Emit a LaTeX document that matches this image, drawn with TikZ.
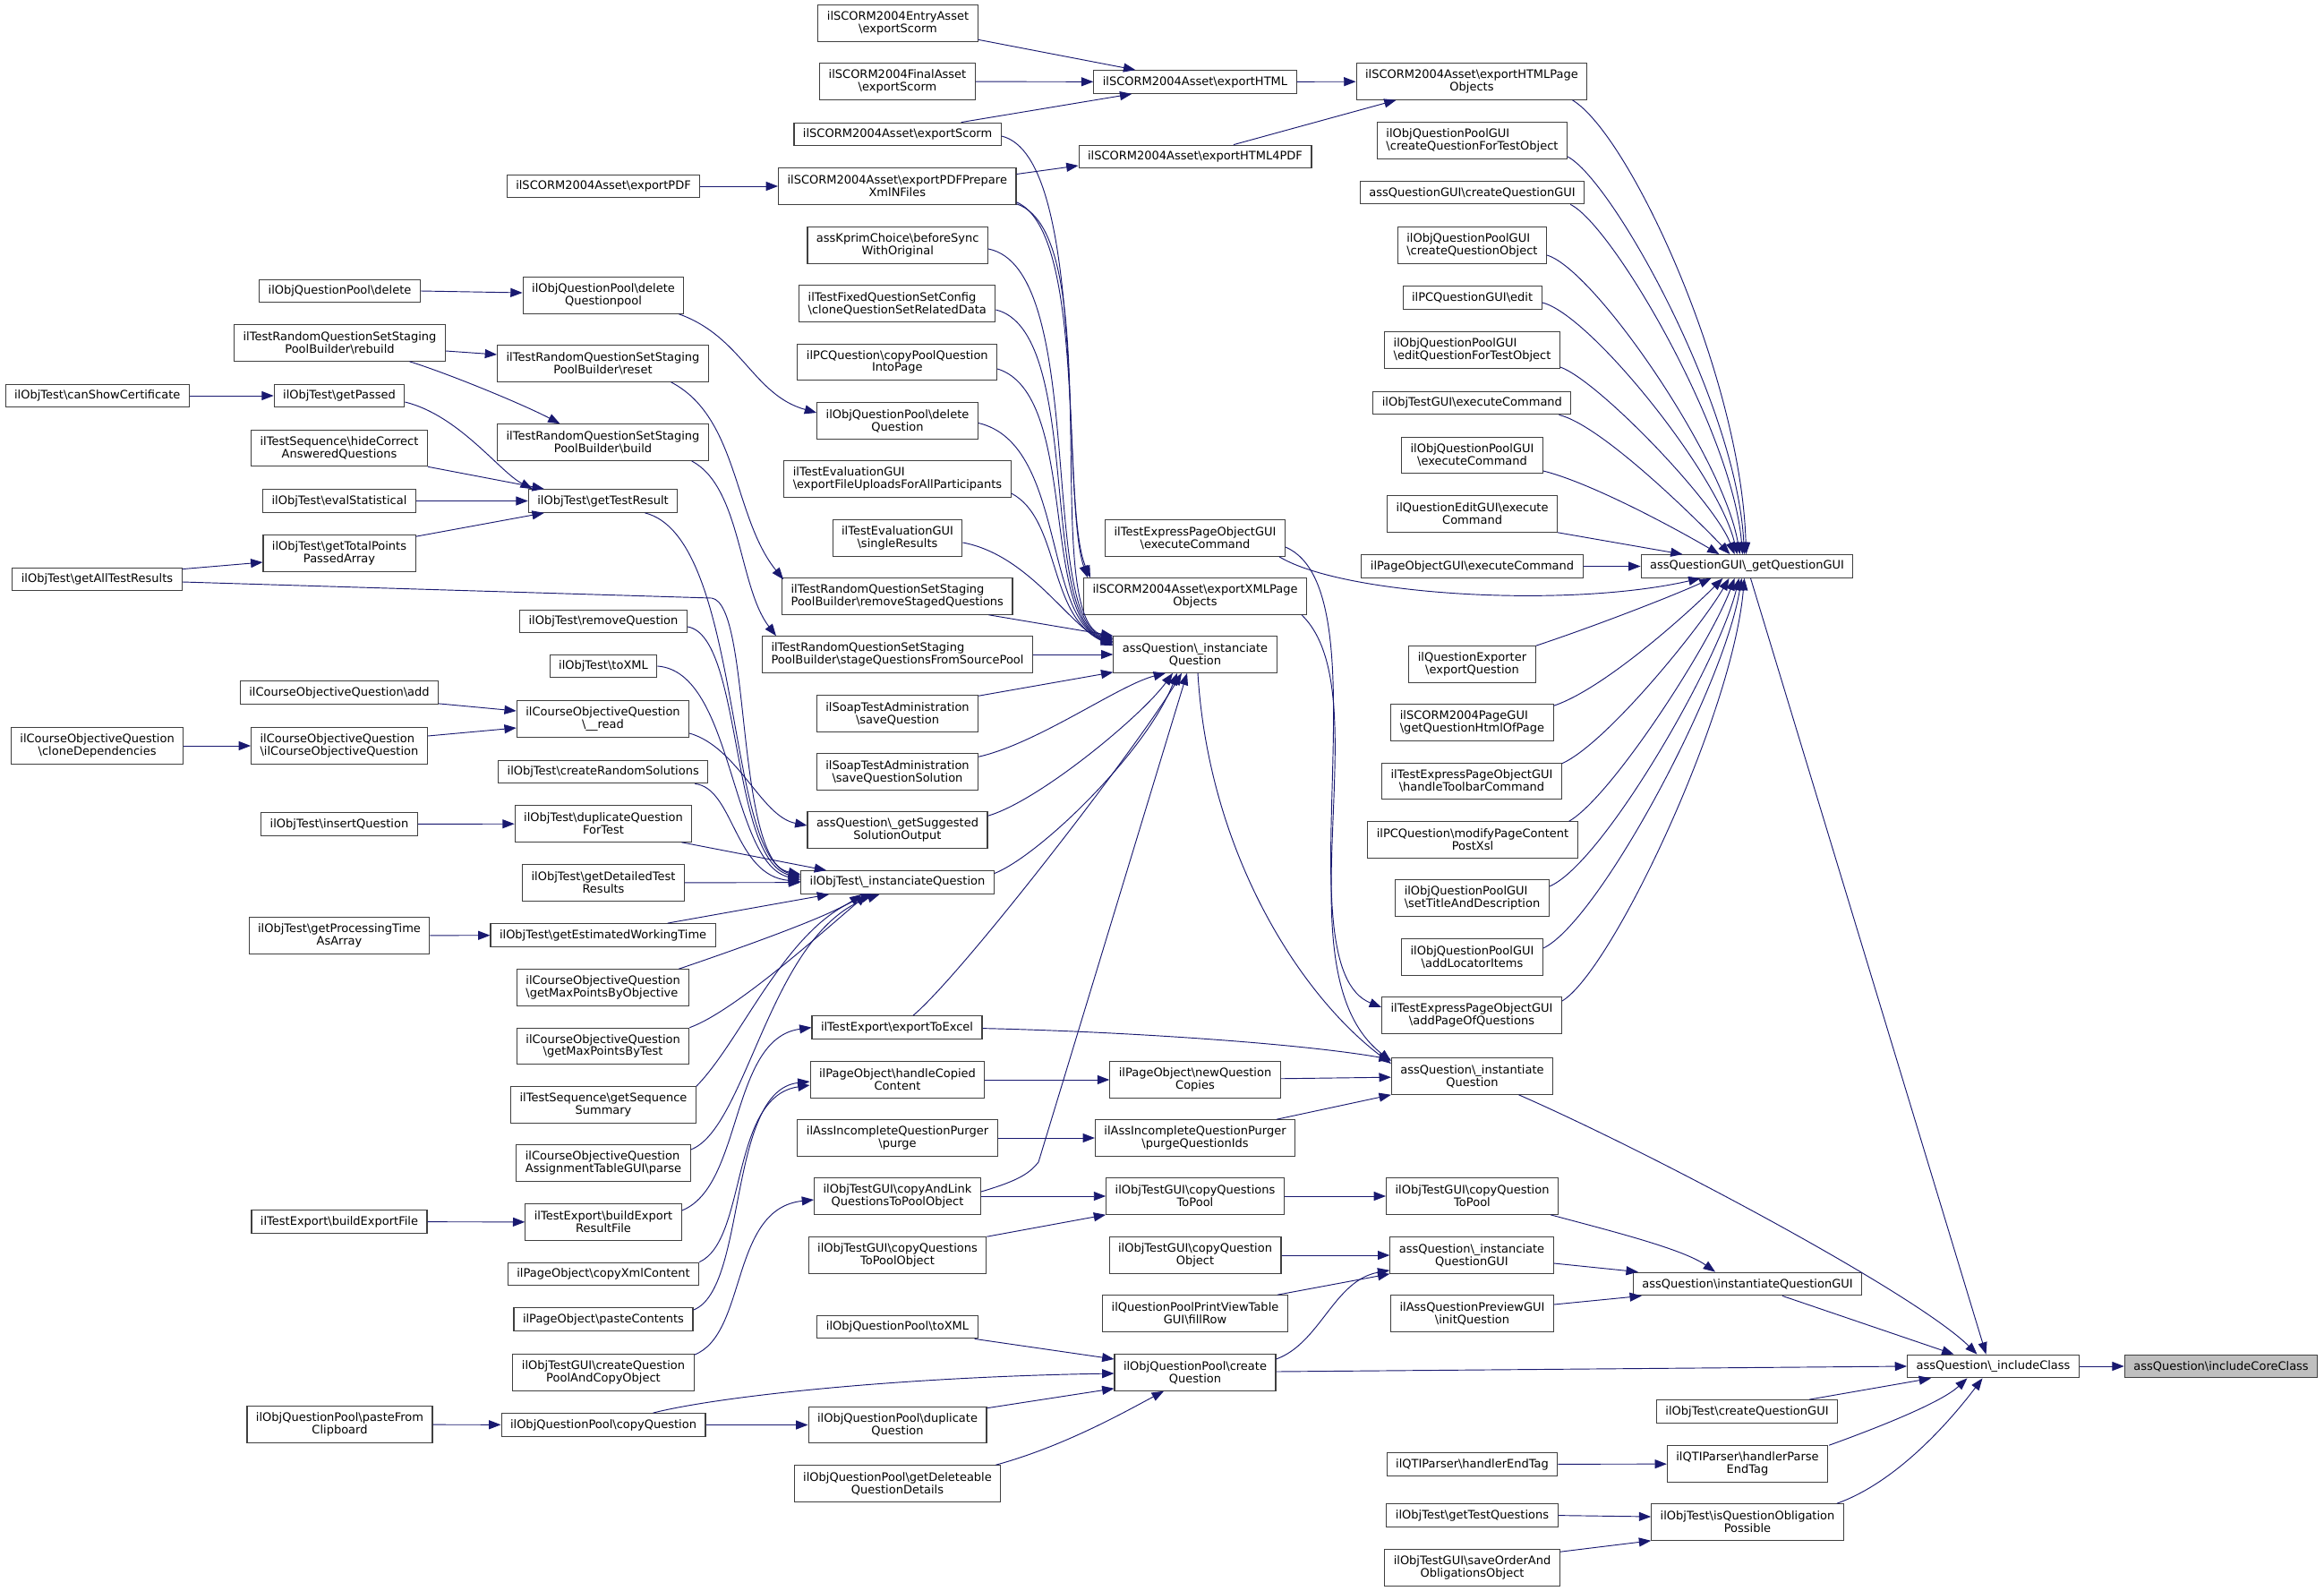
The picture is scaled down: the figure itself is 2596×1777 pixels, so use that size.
\documentclass[tikz,border=0pt]{standalone}
\usepackage{fontspec}
\setmainfont{DejaVu Sans}
\usetikzlibrary{arrows.meta,calc}
\definecolor{edgeblue}{HTML}{191970}
\definecolor{nodeline}{HTML}{404040}
\definecolor{rootfill}{HTML}{BFBFBF}
\newcommand{\bsl}{\textbackslash}

\begin{document}
\begin{tikzpicture}[x=0.75pt,y=-0.75pt,
  box/.style={draw=nodeline, line width=0.8pt, fill=white, inner xsep=7.5pt, inner ysep=2pt,
    minimum height=19.3pt, align=center, font=\fontsize{9.75}{10.35}\selectfont},
  dbl/.style={box, minimum height=30.4pt},
  dbll/.style={dbl, align=left},
  edge/.style={draw=edgeblue, line width=0.7pt, -{Triangle[length=10pt,width=7.5pt]}}]

\useasboundingbox (0,0) rectangle (2596,1777);
\fill[white] (0,0) rectangle (2596,1777);

\node[box] (cansc) at (108.7,442) {ilObjTest\bsl canShowCertificate};
\node[box] (gatr) at (108.5,647) {ilObjTest\bsl getAllTestResults};
\node[dbl] (clonedep) at (108.6,833) {ilCourseObjectiveQuestion\\\bsl cloneDependencies};

\node[box] (oqpdel) at (379.5,325) {ilObjQuestionPool\bsl delete};
\node[dbl] (rebuild) at (379.5,383) {ilTestRandomQuestionSetStaging\\PoolBuilder\bsl rebuild};
\node[box] (getpassed) at (379,442) {ilObjTest\bsl getPassed};
\node[dbl] (hidecorrect) at (379,500.5) {ilTestSequence\bsl hideCorrect\\AnsweredQuestions};
\node[box] (evalstat) at (379,559.5) {ilObjTest\bsl evalStatistical};
\node[dbl] (totalpts) at (379,618) {ilObjTest\bsl getTotalPoints\\PassedArray};
\node[box] (coqadd) at (379,773.5) {ilCourseObjectiveQuestion\bsl add};
\node[dbll] (coqctor) at (379,833) {ilCourseObjectiveQuestion\\\bsl ilCourseObjectiveQuestion};
\node[box] (insertq) at (379,920.6) {ilObjTest\bsl insertQuestion};
\node[dbl] (proctime) at (379,1045) {ilObjTest\bsl getProcessingTime\\AsArray};
\node[box] (buildexpfile) at (379,1364.5) {ilTestExport\bsl buildExportFile};
\node[dbl] (pastefrom) at (379.5,1591) {ilObjQuestionPool\bsl pasteFrom\\Clipboard};

\node[box] (exportpdf) at (674,208) {ilSCORM2004Asset\bsl exportPDF};
\node[dbl] (delpool) at (674,330) {ilObjQuestionPool\bsl delete\\Questionpool};
\node[dbl] (reset) at (673.5,406) {ilTestRandomQuestionSetStaging\\PoolBuilder\bsl reset};
\node[dbl] (build) at (673.5,494) {ilTestRandomQuestionSetStaging\\PoolBuilder\bsl build};
\node[box] (testresult) at (673.5,559.5) {ilObjTest\bsl getTestResult};
\node[box] (removeq) at (674,694) {ilObjTest\bsl removeQuestion};
\node[box] (testxml) at (674,744) {ilObjTest\bsl toXML};
\node[dbl] (coqread) at (673.5,803) {ilCourseObjectiveQuestion\\\bsl\_\_read};
\node[box] (randsol) at (673.7,862) {ilObjTest\bsl createRandomSolutions};
\node[dbl] (dupfortest) at (674,920) {ilObjTest\bsl duplicateQuestion\\ForTest};
\node[dbl] (detailed) at (674,986) {ilObjTest\bsl getDetailedTest\\Results};
\node[box] (worktime) at (673.6,1044.5) {ilObjTest\bsl getEstimatedWorkingTime};
\node[dbll] (maxobj) at (673.6,1103) {ilCourseObjectiveQuestion\\\bsl getMaxPointsByObjective};
\node[dbl] (maxtest) at (673.6,1168.5) {ilCourseObjectiveQuestion\\\bsl getMaxPointsByTest};
\node[dbl] (seqsum) at (674,1234) {ilTestSequence\bsl getSequence\\Summary};
\node[dbll] (tableparse) at (674,1299) {ilCourseObjectiveQuestion\\AssignmentTableGUI\bsl parse};
\node[dbl] (resultfile) at (674,1365) {ilTestExport\bsl buildExport\\ResultFile};
\node[box] (copyxml) at (674,1423) {ilPageObject\bsl copyXmlContent};
\node[box] (pastecont) at (674,1473.5) {ilPageObject\bsl pasteContents};
\node[dbl] (poolandcopy) at (674,1533) {ilObjTestGUI\bsl createQuestion\\PoolAndCopyObject};
\node[box] (copyq) at (674,1591.5) {ilObjQuestionPool\bsl copyQuestion};

\node[dbl] (entryscorm) at (1003,26) {ilSCORM2004EntryAsset\\\bsl exportScorm};
\node[dbl] (finalscorm) at (1002.5,91) {ilSCORM2004FinalAsset\\\bsl exportScorm};
\node[box] (assetscorm) at (1002.6,150) {ilSCORM2004Asset\bsl exportScorm};
\node[dbl] (pdfprep) at (1002.3,208) {ilSCORM2004Asset\bsl exportPDFPrepare\\XmlNFiles};
\node[dbl] (kprim) at (1002.7,274) {assKprimChoice\bsl beforeSync\\WithOriginal};
\node[dbll] (fixedclone) at (1002.3,339) {ilTestFixedQuestionSetConfig\\\bsl cloneQuestionSetRelatedData};
\node[dbl] (pcintopage) at (1002.3,404.5) {ilPCQuestion\bsl copyPoolQuestion\\IntoPage};
\node[dbl] (delq) at (1002.5,470) {ilObjQuestionPool\bsl delete\\Question};
\node[dbll] (fileuploads) at (1002.5,535) {ilTestEvaluationGUI\\\bsl exportFileUploadsForAllParticipants};
\node[dbl] (singleres) at (1002.5,601) {ilTestEvaluationGUI\\\bsl singleResults};
\node[dbll] (removestaged) at (1002.3,666) {ilTestRandomQuestionSetStaging\\PoolBuilder\bsl removeStagedQuestions};
\node[dbll] (stageq) at (1002.5,731) {ilTestRandomQuestionSetStaging\\PoolBuilder\bsl stageQuestionsFromSourcePool};
\node[dbl] (soapsave) at (1002.5,797) {ilSoapTestAdministration\\\bsl saveQuestion};
\node[dbl] (soapsol) at (1002.5,862) {ilSoapTestAdministration\\\bsl saveQuestionSolution};
\node[dbl] (suggested) at (1002.5,927) {assQuestion\bsl\_getSuggested\\SolutionOutput};
\node[box] (otinst) at (1002.5,985.5) {ilObjTest\bsl\_instanciateQuestion};
\node[box] (toexcel) at (1002,1147.6) {ilTestExport\bsl exportToExcel};
\node[dbl] (handlecopied) at (1002.5,1206) {ilPageObject\bsl handleCopied\\Content};
\node[dbl] (purge) at (1002.5,1271) {ilAssIncompleteQuestionPurger\\\bsl purge};
\node[dbl] (copylink) at (1002.5,1336) {ilObjTestGUI\bsl copyAndLink\\QuestionsToPoolObject};
\node[dbl] (copytopoolobj) at (1002.5,1402) {ilObjTestGUI\bsl copyQuestions\\ToPoolObject};
\node[box] (poolxml) at (1002.5,1482) {ilObjQuestionPool\bsl toXML};
\node[dbl] (dupq) at (1002.5,1591.5) {ilObjQuestionPool\bsl duplicate\\Question};
\node[dbl] (deleteable) at (1002.5,1657) {ilObjQuestionPool\bsl getDeleteable\\QuestionDetails};

\node[box] (exporthtml) at (1335,91.5) {ilSCORM2004Asset\bsl exportHTML};
\node[box] (html4pdf) at (1335,175) {ilSCORM2004Asset\bsl exportHTML4PDF};
\node[dbl] (tepoexec) at (1335,601) {ilTestExpressPageObjectGUI\\\bsl executeCommand};
\node[dbl] (xmlpageobj) at (1335,666) {ilSCORM2004Asset\bsl exportXMLPage\\Objects};
\node[dbl] (aqinst) at (1335,731) {assQuestion\bsl\_instanciate\\Question};
\node[dbl] (newcopies) at (1335,1206) {ilPageObject\bsl newQuestion\\Copies};
\node[dbl] (purgeids) at (1335,1271) {ilAssIncompleteQuestionPurger\\\bsl purgeQuestionIds};
\node[dbl] (copystopool) at (1335,1336) {ilObjTestGUI\bsl copyQuestions\\ToPool};
\node[dbl] (copyqobj) at (1335,1402) {ilObjTestGUI\bsl copyQuestion\\Object};
\node[dbl] (fillrow) at (1335,1467) {ilQuestionPoolPrintViewTable\\GUI\bsl fillRow};
\node[dbl] (poolcreate) at (1335,1533) {ilObjQuestionPool\bsl create\\Question};

\node[dbl] (htmlpageobj) at (1644,91) {ilSCORM2004Asset\bsl exportHTMLPage\\Objects};
\node[dbll] (createfortest) at (1644.5,157) {ilObjQuestionPoolGUI\\\bsl createQuestionForTestObject};
\node[box] (createqgui) at (1644.5,215) {assQuestionGUI\bsl createQuestionGUI};
\node[dbll] (createqobj) at (1644.4,274) {ilObjQuestionPoolGUI\\\bsl createQuestionObject};
\node[box] (pcedit) at (1644.6,332.5) {ilPCQuestionGUI\bsl edit};
\node[dbll] (editfortest) at (1644.5,391) {ilObjQuestionPoolGUI\\\bsl editQuestionForTestObject};
\node[box] (testguiexec) at (1644.4,450) {ilObjTestGUI\bsl executeCommand};
\node[dbl] (poolguiexec) at (1644.5,508.5) {ilObjQuestionPoolGUI\\\bsl executeCommand};
\node[dbl] (editguiexec) at (1644.6,574) {ilQuestionEditGUI\bsl execute\\Command};
\node[box] (pageguiexec) at (1644.5,632.5) {ilPageObjectGUI\bsl executeCommand};
\node[dbl] (exportq) at (1644.5,742) {ilQuestionExporter\\\bsl exportQuestion};
\node[dbll] (htmlofpage) at (1644.5,807) {ilSCORM2004PageGUI\\\bsl getQuestionHtmlOfPage};
\node[dbl] (toolbarcmd) at (1644,872.5) {ilTestExpressPageObjectGUI\\\bsl handleToolbarCommand};
\node[dbl] (postxsl) at (1645,938) {ilPCQuestion\bsl modifyPageContent\\PostXsl};
\node[dbll] (titledesc) at (1644.5,1003) {ilObjQuestionPoolGUI\\\bsl setTitleAndDescription};
\node[dbl] (locator) at (1644.5,1069) {ilObjQuestionPoolGUI\\\bsl addLocatorItems};
\node[dbl] (addpage) at (1644,1134) {ilTestExpressPageObjectGUI\\\bsl addPageOfQuestions};
\node[dbl] (aqinstantiate) at (1644.5,1202) {assQuestion\bsl\_instantiate\\Question};
\node[dbl] (copyqtopool) at (1644.5,1336) {ilObjTestGUI\bsl copyQuestion\\ToPool};
\node[dbl] (aqinstgui) at (1644,1402) {assQuestion\bsl\_instanciate\\QuestionGUI};
\node[dbl] (previewinit) at (1644.5,1467) {ilAssQuestionPreviewGUI\\\bsl initQuestion};
\node[box] (endtag) at (1644.5,1635.5) {ilQTIParser\bsl handlerEndTag};
\node[box] (testquestions) at (1644.5,1692.6) {ilObjTest\bsl getTestQuestions};
\node[dbl] (saveorder) at (1644.5,1751) {ilObjTestGUI\bsl saveOrderAnd\\ObligationsObject};

\node[box] (getqgui) at (1951.5,632.5) {assQuestionGUI\bsl\_getQuestionGUI};
\node[box] (instgui) at (1952,1434) {assQuestion\bsl instantiateQuestionGUI};
\node[box] (testcreategui) at (1951.5,1576.5) {ilObjTest\bsl createQuestionGUI};
\node[dbl] (parseend) at (1952,1635) {ilQTIParser\bsl handlerParse\\EndTag};
\node[dbl] (obligation) at (1952,1700) {ilObjTest\bsl isQuestionObligation\\Possible};

\node[box] (includeclass) at (2226.5,1526) {assQuestion\bsl\_includeClass};
\node[box, fill=rootfill] (corecls) at (2481,1526) {assQuestion\bsl includeCoreClass};

\draw[edge] (cansc) -- (getpassed);
\draw[edge] ($(getpassed.east)+(0,7)$) .. controls (513,464) and (558,527) .. ($(testresult.north west)+(5,0)$);
\draw[edge] (hidecorrect.south east) -- ($(testresult.north west)+(18,0)$);
\draw[edge] (evalstat) -- (testresult);
\draw[edge] ($(totalpts.north east)+(0,2)$) -- ($(testresult.south west)+(18,0)$);
\draw[edge] ($(gatr.north east)+(0,2)$) -- ($(totalpts.west)+(0,10)$);
\draw[edge] ($(gatr.east)+(0,3)$) -- (795,668) .. controls (840,675) and (820,960) .. ($(otinst.west)+(0,-7)$);
\draw[edge] (oqpdel.east) -- ($(delpool.west)+(0,-3)$);
\draw[edge] ($(delpool.south east)+(-6,0)$) .. controls (829,376) and (841,441) .. ($(delq.west)+(0,-9)$);
\draw[edge] ($(rebuild.east)+(0,9)$) -- ($(reset.west)+(0,-10)$);
\draw[edge] ($(rebuild.south)+(78,0)$) .. controls (503,418) and (585,452) .. ($(build.north)+(-48,0)$);
\draw[edge] ($(reset.south)+(76,0)$) .. controls (825,466) and (819,578) .. ($(removestaged.north west)+(2,2)$);
\draw[edge] ($(build.south)+(99,0)$) .. controls (828,544) and (825,656) .. ($(stageq.north west)+(16,0)$);
\draw[edge] ($(testresult.south)+(47,0)$) .. controls (830,600) and (810,960) .. ($(otinst.west)+(0,-9)$);
\draw[edge] ($(removeq.east)+(0,6)$) .. controls (830,710) and (815,960) .. ($(otinst.west)+(0,-5)$);
\draw[edge] (testxml.east) .. controls (820,750) and (815,965) .. ($(otinst.west)+(0,-3)$);
\draw[edge] ($(randsol.south east)+(-15,0)$) .. controls (820,880) and (820,978) .. ($(otinst.west)+(0,-1)$);
\draw[edge] ($(dupfortest.south east)+(-12,0)$) -- ($(otinst.north west)+(29,0)$);
\draw[edge] (detailed) -- (otinst);
\draw[edge] ($(worktime.north)+(72,0)$) -- ($(otinst.south west)+(32,0)$);
\draw[edge] ($(maxobj.north east)+(-12,0)$) .. controls (800,1068) and (925,1025) .. ($(otinst.south)+(-40,0)$);
\draw[edge] (maxtest.north east) .. controls (820,1130) and (920,1040) .. ($(otinst.south)+(-34,0)$);
\draw[edge] (seqsum.north east) .. controls (830,1160) and (880,1030) .. ($(otinst.south)+(-27,0)$);
\draw[edge] ($(tableparse.east)+(0,-15)$) .. controls (835,1260) and (860,1040) .. ($(otinst.south)+(-20,0)$);
\draw[edge] ($(otinst.east)+(0,-10)$) .. controls (1162,955) and (1280,840) .. ($(aqinst.south)+(-20,0)$);
\draw[edge] ($(coqadd.south east)+(0,-1)$) -- ($(coqread.west)+(0,-9)$);
\draw[edge] ($(coqctor.east)+(0,-11)$) -- ($(coqread.west)+(0,10)$);
\draw[edge] (clonedep) -- (coqctor);
\draw[edge] ($(coqread.east)+(0,16)$) .. controls (825,835) and (850,912) .. ($(suggested.west)+(0,-5)$);
\draw[edge] (insertq) -- (dupfortest);
\draw[edge] (proctime) -- (worktime);
\draw[edge] (buildexpfile) -- (resultfile);
\draw[edge] ($(resultfile.east)+(0,-13)$) .. controls (830,1325) and (815,1160) .. (toexcel.west);
\draw[edge] (copyxml.north east) .. controls (835,1385) and (815,1225) .. ($(handlecopied.west)+(0,6)$);
\draw[edge] ($(pastecont.north east)+(0,3)$) .. controls (835,1440) and (812,1218) .. ($(handlecopied.west)+(0,2)$);
\draw[edge] ($(poolandcopy.north east)+(0,1)$) .. controls (835,1490) and (815,1350) .. ($(copylink.west)+(0,4)$);
\draw[edge] (handlecopied) -- (newcopies);
\draw[edge] (purge) -- (purgeids);
\draw[edge] (copylink) -- (copystopool);
\draw[edge] ($(copylink.east)+(0,-5)$) .. controls (1140,1318) and (1150,1310) .. (1160,1298) -- ($(aqinst.south)+(-9,0)$);
\draw[edge] (copytopoolobj.north east) -- (copystopool.south west);
\draw[edge] (copystopool) -- (copyqtopool);
\draw[edge] (copyqobj) -- (aqinstgui);
\draw[edge] ($(fillrow.north east)+(-12,0)$) -- (aqinstgui.south west);
\draw[edge] ($(poolcreate.east)+(0,-15)$) .. controls (1475,1500) and (1490,1430) .. ($(aqinstgui.south west)+(0,-4)$);
\draw[edge] ($(poolcreate.east)+(0,-1)$) -- (includeclass.west);
\draw[edge] ($(poolxml.south east)+(-4,0)$) -- ($(poolcreate.west)+(0,-15)$);
\draw[edge] ($(copyq.north east)+(-59,0)$) .. controls (800,1560) and (1000,1538) .. ($(poolcreate.west)+(0,1)$);
\draw[edge] (copyq) -- (dupq);
\draw[edge] ($(dupq.north east)+(0,2)$) -- ($(poolcreate.south west)+(0,-3)$);
\draw[edge] ($(deleteable.north east)+(-6,0)$) .. controls (1190,1615) and (1260,1575) .. ($(poolcreate.south)+(-35,0)$);
\draw[edge] (pastefrom) -- (copyq);

\draw[edge] (exportpdf) -- (pdfprep);
\draw[edge] ($(pdfprep.east)+(0,-13.5)$) -- ($(html4pdf.west)+(0,10)$);
\draw[edge] ($(entryscorm.south east)+(0,-2.5)$) -- ($(exporthtml.north west)+(47,0)$);
\draw[edge] (finalscorm) -- (exporthtml);
\draw[edge] ($(assetscorm.north)+(71,0)$) -- ($(exporthtml.south west)+(43,0)$);
\draw[edge] (exporthtml) -- (htmlpageobj);
\draw[edge] ($(html4pdf.north)+(43,0)$) -- ($(htmlpageobj.south west)+(45,0)$);
\draw[edge] ($(assetscorm.east)+(0,2)$) .. controls (1215,175) and (1185,560) .. ($(xmlpageobj.north west)+(5,0)$);
\draw[edge] ($(pdfprep.south east)+(0,-3)$) .. controls (1215,260) and (1185,570) .. ($(xmlpageobj.north west)+(8,0)$);
\draw[edge] ($(pdfprep.south east)+(0,-1)$) .. controls (1240,262) and (1160,690) .. ($(aqinst.north west)+(0,2)$);
\draw[edge] ($(kprim.east)+(0,4)$) .. controls (1215,300) and (1160,690) .. ($(aqinst.north west)+(0,3.5)$);
\draw[edge] ($(fixedclone.east)+(0,7)$) .. controls (1210,370) and (1160,690) .. ($(aqinst.north west)+(0,5)$);
\draw[edge] ($(pcintopage.east)+(0,7.5)$) .. controls (1205,440) and (1162,690) .. ($(aqinst.north west)+(0,6.5)$);
\draw[edge] ($(delq.east)+(0,2.5)$) .. controls (1190,495) and (1165,690) .. ($(aqinst.north west)+(0,8)$);
\draw[edge] ($(fileuploads.east)+(0,16)$) .. controls (1185,580) and (1170,690) .. ($(aqinst.north west)+(0,9.5)$);
\draw[edge] ($(singleres.east)+(0,5)$) .. controls (1150,620) and (1195,700) .. ($(aqinst.north west)+(0,11)$);
\draw[edge] ($(removestaged.south east)+(-27,0)$) -- (aqinst.north west);
\draw[edge] (stageq) -- (aqinst);
\draw[edge] ($(soapsave.north east)+(0,1)$) -- ($(aqinst.south west)+(0,-1)$);
\draw[edge] ($(soapsol.north east)+(0,4)$) .. controls (1160,830) and (1250,765) .. ($(aqinst.south)+(-33,0)$);
\draw[edge] ($(suggested.north east)+(0,5)$) .. controls (1160,895) and (1275,800) .. ($(aqinst.south)+(-25,0)$);
\draw[edge] ($(toexcel.north)+(18,0)$) .. controls (1075,1088) and (1270,835) .. ($(aqinst.south)+(-15,0)$);
\draw[edge] ($(aqinst.south)+(3,0)$) .. controls (1350,950) and (1450,1110) .. ($(aqinstantiate.west)+(0,-14)$);
\draw[edge] ($(xmlpageobj.south east)+(-6,0)$) .. controls (1545,775) and (1425,1085) .. ($(aqinstantiate.west)+(0,-17)$);
\draw[edge] ($(toexcel.east)+(0,1)$) .. controls (1250,1152) and (1450,1165) .. ($(aqinstantiate.north west)+(0,2)$);
\draw[edge] (newcopies) -- (aqinstantiate);
\draw[edge] ($(purgeids.north east)+(-21,0)$) -- (aqinstantiate.south west);
\draw[edge] ($(tepoexec.east)+(0,10)$) .. controls (1550,660) and (1430,1080) .. ($(addpage.west)+(0,-9)$);
\draw[edge] ($(tepoexec.south east)+(-7,0)$) .. controls (1500,665) and (1750,680) .. ($(getqgui.south west)+(67,0)$);

\draw[edge] ($(htmlpageobj.south east)+(-17,0)$) .. controls (1820,150) and (1945,420) .. ($(getqgui.north)+(-1,0)$);
\draw[edge] ($(createfortest.east)+(0,18)$) .. controls (1800,200) and (1940,450) .. ($(getqgui.north)+(-3,0)$);
\draw[edge] ($(createqgui.south east)+(-16,0)$) .. controls (1800,250) and (1935,480) .. ($(getqgui.north)+(-5,0)$);
\draw[edge] ($(createqobj.east)+(0,11)$) .. controls (1780,300) and (1925,510) .. ($(getqgui.north)+(-8,0)$);
\draw[edge] ($(pcedit.east)+(0,5.5)$) .. controls (1775,350) and (1920,530) .. ($(getqgui.north)+(-11,0)$);
\draw[edge] ($(editfortest.east)+(0,19)$) .. controls (1785,425) and (1915,560) .. ($(getqgui.north)+(-14,0)$);
\draw[edge] ($(testguiexec.south east)+(-14,0)$) .. controls (1790,475) and (1900,585) .. ($(getqgui.north)+(-19,0)$);
\draw[edge] ($(poolguiexec.east)+(0,17.5)$) .. controls (1780,540) and (1880,595) .. ($(getqgui.north)+(-31,0)$);
\draw[edge] (editguiexec.south east) -- ($(getqgui.north west)+(47,0)$);
\draw[edge] (pageguiexec) -- (getqgui);
\draw[edge] (exportq.north east) .. controls (1780,700) and (1870,665) .. ($(getqgui.south)+(-40,0)$);
\draw[edge] ($(htmlofpage.north east)+(0,2)$) .. controls (1790,770) and (1880,690) .. ($(getqgui.south)+(-27,0)$);
\draw[edge] ($(toolbarcmd.north east)+(0,1)$) .. controls (1795,830) and (1900,700) .. ($(getqgui.south)+(-20,0)$);
\draw[edge] ($(postxsl.north east)+(-10,0)$) .. controls (1800,890) and (1910,720) .. ($(getqgui.south)+(-14,0)$);
\draw[edge] ($(titledesc.east)+(0,-13)$) .. controls (1790,965) and (1920,740) .. ($(getqgui.south)+(-9,0)$);
\draw[edge] ($(locator.east)+(0,-10)$) .. controls (1785,1030) and (1925,770) .. ($(getqgui.south)+(-6,0)$);
\draw[edge] ($(addpage.east)+(0,-16)$) .. controls (1800,1085) and (1935,800) .. ($(getqgui.south)+(-3,0)$);

\draw[edge] ($(copyqtopool.south east)+(-9,0)$) .. controls (1800,1375) and (1880,1395) .. ($(instgui.north)+(-36,0)$);
\draw[edge] ($(aqinstgui.east)+(0,9)$) -- ($(instgui.north west)+(6,0)$);
\draw[edge] ($(previewinit.east)+(0,-10)$) -- ($(instgui.south west)+(10,0)$);
\draw[edge] (endtag) -- (parseend);
\draw[edge] (testquestions.east) -- ($(obligation.west)+(0,-6)$);
\draw[edge] ($(saveorder.north east)+(0,3)$) -- (obligation.south west);

\draw[edge] ($(aqinstantiate.south)+(52,0)$) .. controls (1850,1290) and (2140,1445) .. ($(includeclass.north)+(-18,0)$);
\draw[edge] ($(getqgui.south)+(4,0)$) -- ($(includeclass.north)+(-8,0)$);
\draw[edge] ($(instgui.south)+(39,0)$) -- ($(includeclass.north)+(-44,0)$);
\draw[edge] ($(testcreategui.north east)+(-32,0)$) -- ($(includeclass.south west)+(27,0)$);
\draw[edge] ($(parseend.north east)+(1,0)$) .. controls (2110,1590) and (2170,1565) .. ($(includeclass.south)+(-29,0)$);
\draw[edge] ($(obligation.north east)+(-8,0)$) .. controls (2120,1655) and (2180,1585) .. ($(includeclass.south)+(-12,0)$);
\draw[edge] (includeclass) -- (corecls);

\end{tikzpicture}
\end{document}
